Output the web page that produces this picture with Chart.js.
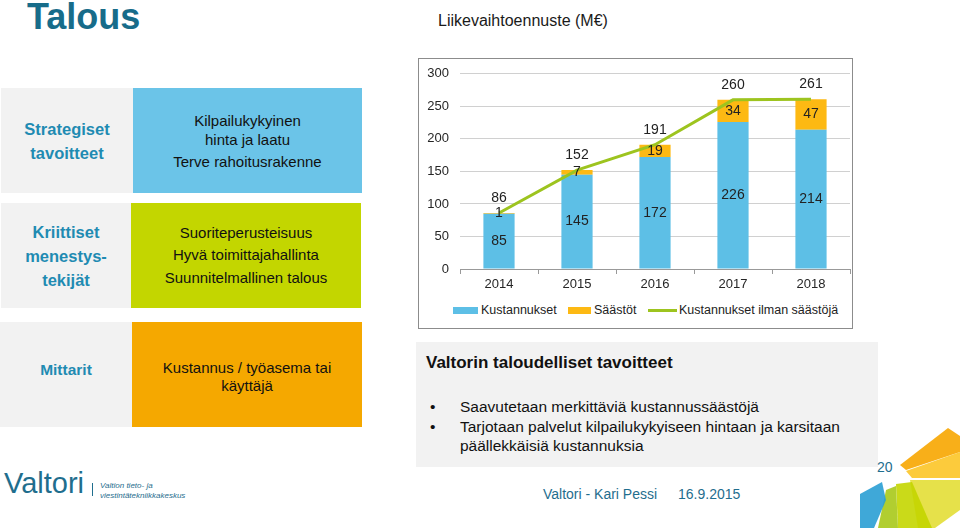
<!DOCTYPE html>
<html lang="fi">
<head>
<meta charset="UTF-8">
<title>Talous</title>
<script src="https://cdn.jsdelivr.net/npm/chart.js"></script>
<style>
  html, body { margin: 0; padding: 0; }
  body { width: 960px; height: 528px; position: relative; overflow: hidden; background: #fff;
         font-family: Arial, "Liberation Sans", sans-serif; color: #111; }
  .abs { position: absolute; }
  .title { left: 27px; top: -4px; font-size: 36px; font-weight: bold; color: #176c8a; }
  .subtitle { left: 438px; top: 12px; font-size: 16px; color: #1a1a1a; }
  .lbl { background: #f2f2f2; display: flex; flex-direction: column; justify-content: center; align-items: center;
         color: #1f8bb2; font-weight: bold; font-size: 16.5px; line-height: 24px; text-align: center; box-sizing: border-box; }
  .box { display: flex; flex-direction: column; justify-content: center; align-items: center;
         font-size: 15px; text-align: center; color: #111; box-sizing: border-box; }
  .chartbox { left: 418px; top: 58px; width: 433px; height: 269px; border: 1px solid #8c8c8c; }
  .legend { font-size: 12.5px; color: #222; top: 303px; }
  .legend span.sw { position: absolute; top: 4px; }
  .goals { left: 416px; top: 342px; width: 462px; height: 125px; background: #f2f2f2; }
  .goals h3 { margin: 0; position: absolute; left: 10px; top: 11px; font-size: 17px; }
  .goals ul { margin: 0; padding: 0; list-style: none; position: absolute; left: 14px; top: 55px; font-size: 15.5px; line-height: 19.5px; }
  .goals li { position: relative; padding-left: 30px; width: 400px; }
  .goals li::before { content: "•"; position: absolute; left: 0; }
  .teal { color: #1f6e8e; }
</style>
</head>
<body>
<div class="abs title">Talous</div>
<div class="abs subtitle">Liikevaihtoennuste (M€)</div>

<!-- left panel -->
<div class="abs lbl" style="left:1px;top:88px;width:132px;height:105px;">Strategiset<br>tavoitteet</div>
<div class="abs box" style="left:133px;top:88px;width:229px;height:105px;background:#6bc4e8;line-height:19px;">
  <div>Kilpailukykyinen<br>hinta ja laatu</div><div style="margin-top:3px">Terve rahoitusrakenne</div></div>
<div class="abs lbl" style="left:1px;top:203px;width:130px;height:105px;line-height:24px;">Kriittiset<br>menestys-<br>tekijät</div>
<div class="abs box" style="left:131px;top:203px;width:230px;height:105px;background:#c3d600;line-height:22.5px;">
  Suoriteperusteisuus<br>Hyvä toimittajahallinta<br>Suunnitelmallinen talous</div>
<div class="abs lbl" style="left:0px;top:322px;width:132px;height:105px;font-size:15.5px;padding-bottom:10px;">Mittarit</div>
<div class="abs box" style="left:132px;top:322px;width:230px;height:105px;background:#f5a800;line-height:18px;padding-top:4px;">
  Kustannus / työasema tai<br>käyttäjä</div>

<!-- chart -->
<div class="abs chartbox"></div>
<div class="abs" style="left:419px;top:55px;width:432px;height:240px;">
  <canvas id="salesChart"></canvas>
</div>
<div class="abs legend" style="left:453px;">
  <span class="sw" style="left:0;width:25px;height:7px;background:#5dbfe6;"></span>
  <span style="position:absolute;left:28px;white-space:nowrap;">Kustannukset</span>
</div>
<div class="abs legend" style="left:568px;">
  <span class="sw" style="left:0;width:23px;height:7px;background:#fdb913;"></span>
  <span style="position:absolute;left:26px;white-space:nowrap;">Säästöt</span>
</div>
<div class="abs legend" style="left:648px;">
  <span class="sw" style="left:0;top:6px;width:29px;height:3px;background:#9dc41f;"></span>
  <span style="position:absolute;left:31px;white-space:nowrap;">Kustannukset ilman säästöjä</span>
</div>

<!-- goals -->
<div class="abs goals">
  <h3>Valtorin taloudelliset tavoitteet</h3>
  <ul>
    <li>Saavutetaan merkittäviä kustannussäästöjä</li>
    <li>Tarjotaan palvelut kilpailukykyiseen hintaan ja karsitaan päällekkäisiä kustannuksia</li>
  </ul>
</div>
<div class="abs teal" style="left:877px;top:459px;font-size:14px;">20</div>

<!-- footer -->
<div class="abs teal" style="left:4px;top:467px;font-size:29px;">Valtori</div>
<div class="abs" style="left:92px;top:483px;width:1px;height:13px;background:#1f6e8e;"></div>
<div class="abs teal" style="left:100px;top:481px;font-size:8px;font-style:italic;line-height:9.5px;">Valtion tieto- ja<br>viestintätekniikkakeskus</div>
<div class="abs teal" style="left:543px;top:486px;font-size:14px;">Valtori - Kari Pessi</div>
<div class="abs teal" style="left:678px;top:486px;font-size:14px;">16.9.2015</div>

<svg class="abs" style="left:0;top:0;" width="960" height="528">
  <polygon points="900,465 948,428 960,436 960,452 906,470" fill="#f7a600" opacity="0.9"/>
  <polygon points="906,471 960,452 960,478 912,478" fill="#fcc21a" opacity="0.85"/>
  <polygon points="910,480 960,480 960,510 935,528 918,528" fill="#e2dc2a" opacity="0.85"/>
  <polygon points="896,484 912,482 932,528 898,528" fill="#c4d600" opacity="0.9"/>
  <polygon points="886,490 896,486 898,528 878,528" fill="#a8c91a" opacity="0.9"/>
  <polygon points="860,494 882,482 886,500 874,528 860,528" fill="#2a9fd4" opacity="0.9"/>
</svg>

<script>
// values (M€)
const years = ['2014', '2015', '2016', '2017', '2018'];
const kustannukset = [85, 145, 172, 226, 214];
const saastot = [1, 7, 19, 34, 47];
const ilmanSaastoja = [86, 152, 191, 260, 261];

Chart.defaults.font.family = 'Arial, "Liberation Sans", sans-serif';

// numbers on top of / inside the marks
const valueLabels = {
  id: 'valueLabels',
  afterDatasetsDraw(chart) {
    const ctx = chart.ctx;
    ctx.save();
    ctx.font = '14px Arial, "Liberation Sans", sans-serif';
    ctx.fillStyle = '#222';
    ctx.textAlign = 'center';
    ctx.textBaseline = 'middle';
    chart.data.datasets.forEach((ds, i) => {
      chart.getDatasetMeta(i).data.forEach((el, j) => {
        if (ds.type === 'line') {
          ctx.fillText(ds.data[j], el.x, el.y - 15);
        } else {
          ctx.fillText(ds.data[j], el.x, (el.y + el.base) / 2);
        }
      });
    });
    ctx.restore();
  }
};

const ctx = document.getElementById('salesChart').getContext('2d');
const salesChart = new Chart(ctx, {
  data: {
    labels: years,
    datasets: [
      {
        type: 'bar',
        label: 'Kustannukset',
        data: kustannukset,
        backgroundColor: '#5dbfe6',
        stack: 's',
        order: 2
      },
      {
        type: 'bar',
        label: 'Säästöt',
        data: saastot,
        backgroundColor: '#fdb913',
        stack: 's',
        order: 2
      },
      {
        type: 'line',
        label: 'Kustannukset ilman säästöjä',
        data: ilmanSaastoja,
        borderColor: '#9dc41f',
        borderWidth: 3,
        pointRadius: 0,
        tension: 0,
        fill: false,
        order: 1
      }
    ]
  },
  options: {
    responsive: true,
    maintainAspectRatio: false,
    animation: false,
    layout: { padding: { top: 10, right: 1, left: 0, bottom: 0 } },
    datasets: { bar: { categoryPercentage: 1, barPercentage: 0.4 } },
    plugins: { legend: { display: false }, tooltip: { enabled: false } },
    scales: {
      x: {
        stacked: true,
        afterFit(scale) { scale.height = 26; },
        grid: { drawOnChartArea: false, tickLength: 5, color: '#999', offset: true },
        border: { color: '#999' },
        ticks: { color: '#262626', font: { size: 13 }, padding: 3 }
      },
      y: {
        stacked: true,
        min: 0,
        max: 300,
        afterFit(scale) { scale.width = 41; },
        grid: { color: '#d0d0d0', drawTicks: false },
        border: { display: false },
        ticks: { stepSize: 50, color: '#262626', font: { size: 13 }, padding: 11 }
      }
    }
  },
  plugins: [valueLabels]
});
</script>
</body>
</html>
